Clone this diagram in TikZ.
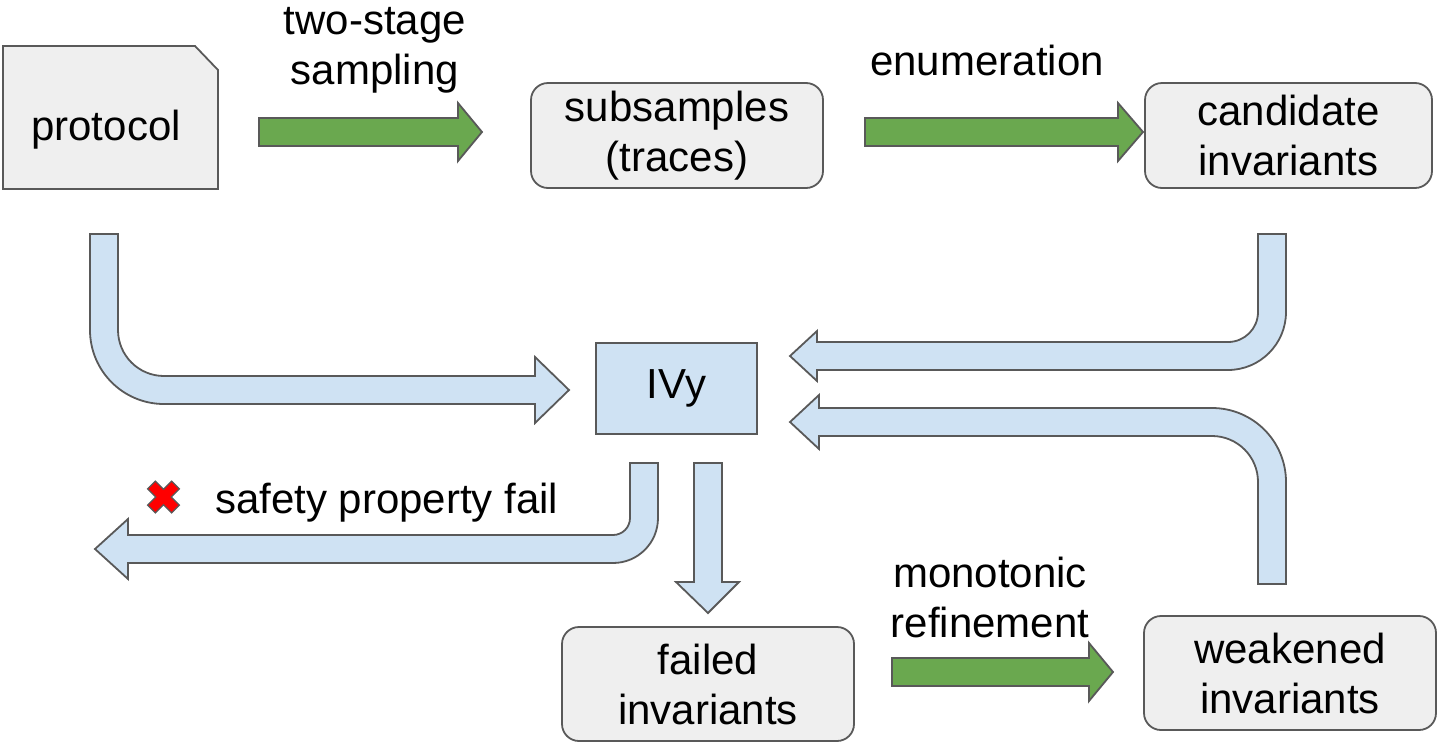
\documentclass[tikz,border=0pt]{standalone}
\usepackage{fontspec}
\setmainfont{Liberation Sans}
\definecolor{edge}{HTML}{595959}
\definecolor{boxfill}{HTML}{EFEFEF}
\definecolor{flowgreen}{HTML}{6AA84F}
\definecolor{flowblue}{HTML}{CFE2F3}
\definecolor{failred}{HTML}{FF0000}

\begin{document}
\begin{tikzpicture}[x=1pt, y=-1pt,
  bigtext/.style={font=\fontsize{42}{50}\selectfont, align=center, inner sep=0pt},
  stagebox/.style={bigtext, draw=edge, fill=boxfill, line width=1.8pt, rounded corners=17pt},
  toolbox/.style={bigtext, draw=edge, fill=flowblue, line width=1.8pt},
  bluearrow/.style={draw=edge, fill=flowblue, line width=1.8pt, line join=miter},
  greenarrow/.style={draw=edge, fill=flowgreen, line width=1.8pt, line join=miter},
]
\useasboundingbox (0,0) rectangle (1437,742);

% input document (snipped corner)
\path[draw=edge, fill=boxfill, line width=1.8pt, line join=miter]
  (3,46) -- (195,46) -- (218,70) -- (218,189) -- (3,189) -- cycle;
\node[bigtext] (protocol) at (106,130) {protocol};

% pipeline stages
\node[stagebox, minimum width=292pt, minimum height=105pt] (subsamples) at (677,135.5) {subsamples\\(traces)};
\node[stagebox, minimum width=287pt, minimum height=105pt] (candidate) at (1288.5,135.5) {candidate\\invariants};
\node[toolbox, minimum width=161pt, minimum height=91pt] (ivy) at (676.5,388.5) {IVy};
\node[stagebox, minimum width=292pt, minimum height=114pt] (failed) at (708,684) {failed\\invariants};
\node[stagebox, minimum width=292pt, minimum height=114pt] (weakened) at (1290,673) {weakened\\invariants};

% green step arrows with their labels
\path[greenarrow] (259,118) -- (458,118) -- (458,103) -- (482,132) -- (458,161) -- (458,146) -- (259,146) -- cycle;
\node[bigtext] (lblsampling) at (375,50) {two-stage\\sampling};

\path[greenarrow] (865,118) -- (1118,118) -- (1118,103) -- (1143,132) -- (1118,161) -- (1118,146) -- (865,146) -- cycle;
\node[bigtext, anchor=base] (lblenum) at (987,75) {enumeration};

\path[greenarrow] (892,658) -- (1089,658) -- (1089,643) -- (1113,672) -- (1089,701) -- (1089,686) -- (892,686) -- cycle;
\node[bigtext] (lblrefine) at (990,597) {monotonic\\refinement};

% protocol -> IVy
\path[bluearrow] (90,234) -- (118,234) -- (118,330)
  .. controls (118,355.4) and (138.6,376) .. (164,376)
  -- (535,376) -- (535,357) -- (569,390) -- (535,423) -- (535,404) -- (164,404)
  .. controls (123.1,404) and (90,370.9) .. (90,330) -- cycle;

% candidate invariants -> IVy
\path[bluearrow] (1258,234) -- (1286,234) -- (1286,312)
  .. controls (1286,344) and (1260,370) .. (1228,370)
  -- (817,370) -- (817,381) -- (790,356) -- (817,331) -- (817,342) -- (1228,342)
  .. controls (1244.6,342) and (1258,328.6) .. (1258,312) -- cycle;

% weakened invariants -> IVy
\path[bluearrow] (1258,584) -- (1286,584) -- (1286,482)
  .. controls (1286,441.1) and (1252.9,408) .. (1212,408)
  -- (819,408) -- (819,395) -- (790,422) -- (819,449) -- (819,436) -- (1212,436)
  .. controls (1237.4,436) and (1258,456.6) .. (1258,482) -- cycle;

% IVy -> safety property fail
\path[bluearrow] (630,463) -- (658,463) -- (658,518)
  .. controls (658,542.9) and (637.9,563) .. (613,563)
  -- (128,563) -- (128,579) -- (95,549) -- (128,519) -- (128,535) -- (613,535)
  .. controls (622.4,535) and (630,527.4) .. (630,518) -- cycle;

% IVy -> failed invariants
\path[bluearrow] (694,463) -- (722,463) -- (722,582) -- (739,582) -- (708,613) -- (676,582) -- (694,582) -- cycle;

% failure mark and label
\begin{scope}[shift={(163.5,497)}, rotate=45]
  \path[draw=edge, fill=failred, line width=1.2pt, line join=miter]
    (5.5,5.5) -- (5.5,17) -- (-5.5,17) -- (-5.5,5.5) -- (-17,5.5) -- (-17,-5.5)
    -- (-5.5,-5.5) -- (-5.5,-17) -- (5.5,-17) -- (5.5,-5.5) -- (17,-5.5) -- (17,5.5) -- cycle;
\end{scope}
\node[bigtext, anchor=base west] (lblsafety) at (215,513) {safety property fail};

\end{tikzpicture}
\end{document}
